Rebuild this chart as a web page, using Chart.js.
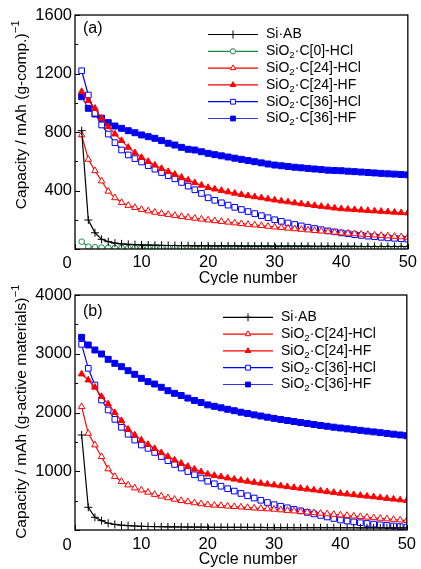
<!DOCTYPE html>
<html>
<head>
<meta charset="utf-8">
<script src="https://cdn.jsdelivr.net/npm/chart.js@4.4.0/dist/chart.umd.min.js"></script>
<style>
  body { margin: 0; background: #fff; }
  #wrap { position: relative; width: 421px; height: 569px; }
  #wrap canvas { position: absolute; left: 0; }
</style>
</head>
<body>
<div id="wrap">
  <canvas id="capA" width="421" height="285" style="top:0px"></canvas>
  <canvas id="capB" width="421" height="294" style="top:275px"></canvas>
</div>
<script>
const FONT = "'Liberation Sans', Arial, sans-serif";

// cycle index on the x axis
const cycles = Array.from({ length: 50 }, (_, i) => i + 1);
const xTicks = [0, 10, 20, 30, 40, 50];

// (a) capacity per gram of composite
const siAB_a = [809, 198, 111, 66, 50, 40, 35, 32, 30, 28, 27, 26, 25, 24, 24, 23, 23, 22, 22, 22,
  21, 21, 21, 21, 20, 20, 20, 20, 20, 19, 19, 19, 19, 19, 19, 18, 18, 18, 18, 18,
  18, 18, 17, 17, 17, 17, 17, 17, 17, 17];
const c0HCl_a = [50, 16, 12, 10, 9, 9, 8, 8, 8, 8, 8, 7, 7, 7, 7, 7, 7, 7, 7, 7,
  6, 6, 6, 6, 6, 6, 6, 6, 6, 6, 6, 6, 6, 6, 6, 5, 5, 5, 5, 5,
  5, 5, 5, 5, 5, 5, 5, 5, 5, 5];
const c24HCl_a = [780, 613, 535, 465, 395, 350, 318, 298, 283, 270, 260, 251, 243, 236, 229, 222, 216, 210, 204, 198,
  193, 188, 183, 178, 173, 168, 164, 160, 155, 150, 146, 142, 138, 134, 130, 126, 122, 118, 114, 110,
  107, 104, 101, 98, 95, 92, 89, 86, 83, 80];
const c24HF_a = [1076, 1014, 962, 894, 836, 786, 741, 695, 658, 625, 598, 573, 550, 529, 510, 490, 471, 453, 436, 420,
  410, 400, 390, 381, 372, 364, 357, 350, 342, 335, 328, 322, 315, 309, 303, 297, 291, 286, 280, 275,
  272, 269, 266, 263, 260, 257, 254, 251, 248, 246];
const c36HCl_a = [1219, 1053, 928, 848, 786, 727, 677, 643, 618, 595, 570, 546, 523, 501, 480, 455, 430, 405, 380, 350,
  333, 316, 300, 285, 270, 256, 242, 228, 214, 200, 189, 178, 168, 158, 149, 140, 132, 124, 117, 110,
  104, 98, 93, 88, 84, 80, 76, 73, 70, 67];
const c36HF_a = [1041, 962, 923, 894, 864, 841, 825, 809, 795, 780, 768, 757, 741, 723, 711, 695, 682, 677, 665, 654,
  645, 637, 629, 621, 613, 605, 597, 589, 581, 574, 569, 564, 559, 555, 551, 547, 543, 539, 537, 535,
  532, 529, 526, 523, 520, 517, 514, 512, 509, 507];

// (b) capacity per gram of active material
const siAB_b = [1617, 386, 216, 159, 115, 95, 82, 74, 68, 63, 60, 58, 56, 54, 52, 51, 50, 49, 48, 47,
  46, 46, 45, 45, 44, 44, 43, 43, 42, 42, 41, 41, 41, 40, 40, 40, 39, 39, 39, 38,
  38, 38, 37, 37, 37, 36, 36, 36, 35, 35];
const c24HCl_b = [2099, 1645, 1447, 1248, 1040, 910, 825, 766, 715, 680, 642, 605, 575, 548, 522, 500, 481, 462, 445, 430,
  422, 414, 406, 398, 390, 382, 374, 367, 359, 352, 342, 332, 322, 312, 303, 293, 284, 274, 265, 255,
  246, 236, 227, 217, 208, 198, 189, 179, 170, 160];
const c24HF_b = [2655, 2553, 2429, 2270, 2145, 1997, 1861, 1714, 1617, 1530, 1455, 1385, 1315, 1250, 1190, 1135, 1082, 1035, 990, 950,
  928, 906, 885, 865, 846, 828, 811, 795, 780, 766, 751, 737, 723, 709, 695, 681, 667, 652, 638, 624,
  612, 600, 588, 575, 563, 550, 537, 525, 512, 500];
const c36HCl_b = [3160, 2752, 2468, 2213, 2043, 1884, 1748, 1630, 1530, 1447, 1390, 1320, 1250, 1180, 1115, 1055, 995, 940, 885, 830,
  787, 745, 703, 662, 622, 583, 544, 506, 468, 431, 404, 378, 352, 326, 300, 274, 248, 222, 196, 170,
  153, 138, 124, 111, 99, 88, 78, 68, 58, 48];
const c36HF_b = [3279, 3149, 3064, 2996, 2905, 2837, 2780, 2712, 2650, 2582, 2525, 2485, 2429, 2371, 2326, 2290, 2245, 2205, 2170, 2130,
  2105, 2080, 2055, 2030, 2005, 1983, 1960, 1940, 1920, 1900, 1882, 1864, 1846, 1829, 1812, 1796, 1780, 1765, 1750, 1736,
  1722, 1709, 1696, 1683, 1670, 1657, 1644, 1631, 1618, 1605];

// y axis ticks
const yTicks_a = [0, 400, 800, 1200, 1600];
const yMinor_a = [200, 600, 1000, 1400];
const yTicks_b = [0, 1000, 2000, 3000, 4000];
const yMinor_b = [500, 1500, 2500, 3500];

const seriesStyle = {
  siAB:   { label: 'Si\u00b7AB',           line: '#000000', color: '#000000', shape: 'cross',    filled: false, r: 4 },
  c0HCl:  { label: 'SiO2\u00b7C[0]-HCl',  line: '#1b8a45', color: '#1b8a45', shape: 'circle',   filled: false, r: 2.8 },
  c24HCl: { label: 'SiO2\u00b7C[24]-HCl', line: '#ff0000', color: '#ff0000', shape: 'triangle', filled: false, r: 3.8 },
  c24HF:  { label: 'SiO2\u00b7C[24]-HF',  line: '#ff0000', color: '#ff0000', shape: 'triangle', filled: true,  r: 3.8 },
  c36HCl: { label: 'SiO2\u00b7C[36]-HCl', line: '#0000ff', color: '#0000ff', shape: 'rect',     filled: false, r: 4 },
  c36HF:  { label: 'SiO2\u00b7C[36]-HF',  line: '#3636d6', color: '#0000ee', shape: 'rect',     filled: true,  r: 4.2 }
};

function makeSet(key, values) {
  const st = seriesStyle[key];
  return {
    label: st.label,
    data: cycles.map((c, i) => ({ x: c, y: values[i] })),
    borderColor: st.line,
    borderWidth: 1.2,
    pointStyle: st.shape,
    pointRadius: st.r,
    pointBorderWidth: 1,
    pointBorderColor: st.color,
    pointBackgroundColor: st.filled ? st.color : '#ffffff',
    tension: 0,
    fill: false
  };
}

function drawMarker(ctx, st, x, y, r) {
  ctx.save();
  ctx.lineWidth = 1;
  ctx.strokeStyle = st.color;
  ctx.fillStyle = st.filled ? st.color : '#ffffff';
  ctx.beginPath();
  if (st.shape === 'cross') {
    ctx.moveTo(x - r, y); ctx.lineTo(x + r, y);
    ctx.moveTo(x, y - r); ctx.lineTo(x, y + r);
    ctx.stroke();
    ctx.restore();
    return;
  }
  if (st.shape === 'circle') {
    ctx.arc(x, y, r, 0, Math.PI * 2);
  } else if (st.shape === 'triangle') {
    ctx.moveTo(x, y - r);
    ctx.lineTo(x + r * 0.866, y + r * 0.5);
    ctx.lineTo(x - r * 0.866, y + r * 0.5);
    ctx.closePath();
  } else {
    const h = r * 0.75;
    ctx.rect(x - h, y - h, h * 2, h * 2);
  }
  ctx.fill();
  ctx.stroke();
  ctx.restore();
}

// label text with the "2" of SiO2 set as a subscript
function drawLabel(ctx, text, x, y, size) {
  ctx.fillStyle = '#000';
  ctx.textAlign = 'left';
  ctx.textBaseline = 'middle';
  ctx.font = size + 'px ' + FONT;
  if (text.startsWith('SiO2')) {
    ctx.fillText('SiO', x, y);
    x += ctx.measureText('SiO').width;
    ctx.font = (size * 0.7) + 'px ' + FONT;
    ctx.fillText('2', x, y + 4);
    x += ctx.measureText('2').width;
    ctx.font = size + 'px ' + FONT;
    ctx.fillText(text.slice(4), x, y);
  } else {
    ctx.fillText(text, x, y);
  }
}

function decor(o) {
  return {
    id: 'decor',
    afterDraw(chart) {
      const ctx = chart.ctx;
      const a = chart.chartArea;
      const xs = chart.scales.x, ys = chart.scales.y;
      ctx.save();
      ctx.strokeStyle = '#000';
      ctx.lineWidth = 1;
      ctx.beginPath();
      o.yMajor.forEach(v => {
        const py = Math.round(ys.getPixelForValue(v)) + 0.5;
        ctx.moveTo(a.left, py); ctx.lineTo(a.left + 5, py);
      });
      o.yMinor.forEach(v => {
        const py = Math.round(ys.getPixelForValue(v)) + 0.5;
        ctx.moveTo(a.left, py); ctx.lineTo(a.left + 3, py);
      });
      xTicks.forEach(v => {
        const px = Math.round(xs.getPixelForValue(v)) + 0.5;
        ctx.moveTo(px, a.bottom); ctx.lineTo(px, a.bottom - 5);
      });
      ctx.stroke();

      ctx.lineWidth = 1.3;
      ctx.strokeRect(a.left, a.top, a.right - a.left, a.bottom - a.top);

      ctx.fillStyle = '#000';
      ctx.textBaseline = 'middle';

      // origin label sits a little left of the corner
      ctx.font = '16.5px ' + FONT;
      ctx.textAlign = 'center';
      ctx.fillText('0', a.left - 8, o.zeroY);

      // panel tag
      ctx.font = '16px ' + FONT;
      ctx.textAlign = 'left';
      ctx.fillText(o.tag, 83, o.tagY);

      // x title
      ctx.textAlign = 'center';
      ctx.font = '16px ' + FONT;
      ctx.fillText('Cycle number', 248, o.xTitleY);

      // y title, rotated, with superscript -1
      ctx.save();
      ctx.translate(22, o.yTitleY);
      ctx.rotate(-Math.PI / 2);
      ctx.font = '15.5px ' + FONT;
      const wMain = ctx.measureText(o.yTitle).width;
      ctx.font = '11px ' + FONT;
      const wSup = ctx.measureText('\u22121').width;
      const sx = -(wMain + wSup) / 2;
      ctx.textAlign = 'left';
      ctx.font = '15.5px ' + FONT;
      ctx.fillText(o.yTitle, sx, 0);
      ctx.font = '11px ' + FONT;
      ctx.fillText('\u22121', sx + wMain + 0.5, -6);
      ctx.restore();

      // legend
      o.legend.forEach((key, i) => {
        const st = seriesStyle[key];
        const y = o.legY + i * 16.8;
        ctx.strokeStyle = st.line;
        ctx.lineWidth = 1.2;
        ctx.beginPath();
        ctx.moveTo(o.legX, y); ctx.lineTo(o.legX + 50, y);
        ctx.stroke();
        const mr = st.shape === 'cross' ? 4 : st.shape === 'circle' ? 2.6 : 3.2;
        drawMarker(ctx, st, o.legX + 25, y, mr);
        drawLabel(ctx, st.label, o.legX + 58, y, 14);
      });
      ctx.restore();
    }
  };
}

function makeChart(id, sets, yMax, yStep, padTop, xHeight, o) {
  return new Chart(document.getElementById(id), {
    type: 'line',
    data: { datasets: sets },
    options: {
      responsive: false,
      animation: false,
      devicePixelRatio: 1,
      layout: { padding: { top: padTop, right: 9, left: 0, bottom: 0 } },
      plugins: { legend: { display: false }, tooltip: { enabled: false } },
      scales: {
        x: {
          type: 'linear', min: 0, max: 50,
          grid: { display: false, drawTicks: false },
          border: { display: false },
          ticks: {
            stepSize: 10, padding: o.xPad, color: '#000', font: { family: FONT, size: 16.5 }, maxRotation: 0,
            callback: v => (v === 0 ? '' : v)
          },
          afterFit: s => { s.height = xHeight; }
        },
        y: {
          min: 0, max: yMax,
          grid: { display: false, drawTicks: false },
          border: { display: false },
          ticks: {
            stepSize: yStep, padding: 3, color: '#000', font: { family: FONT, size: 16.5 },
            callback: v => (v === 0 ? '' : v)
          },
          afterFit: s => { s.width = 75; }
        }
      }
    },
    plugins: [decor(o)]
  });
}

makeChart('capA', [
  makeSet('siAB', siAB_a),
  makeSet('c0HCl', c0HCl_a),
  makeSet('c24HCl', c24HCl_a),
  makeSet('c24HF', c24HF_a),
  makeSet('c36HCl', c36HCl_a),
  makeSet('c36HF', c36HF_a)
], 1600, 400, 15, 36, {
  yMajor: yTicks_a, yMinor: yMinor_a, tag: '(a)', tagY: 29, xTitleY: 279, xPad: 4, zeroY: 263,
  yTitle: 'Capacity / mAh (g-comp.)', yTitleY: 115,
  legend: ['siAB', 'c0HCl', 'c24HCl', 'c24HF', 'c36HCl', 'c36HF'], legX: 208, legY: 34.5
});

makeChart('capB', [
  makeSet('siAB', siAB_b),
  makeSet('c24HCl', c24HCl_b),
  makeSet('c24HF', c24HF_b),
  makeSet('c36HCl', c36HCl_b),
  makeSet('c36HF', c36HF_b)
], 4000, 1000, 20, 39, {
  yMajor: yTicks_b, yMinor: yMinor_b, tag: '(b)', tagY: 37, xTitleY: 285, xPad: 5, zeroY: 270,
  yTitle: 'Capacity / mAh (g-active materials)', yTitleY: 137,
  legend: ['siAB', 'c24HCl', 'c24HF', 'c36HCl', 'c36HF'], legX: 223, legY: 42.3
});
</script>
</body>
</html>
